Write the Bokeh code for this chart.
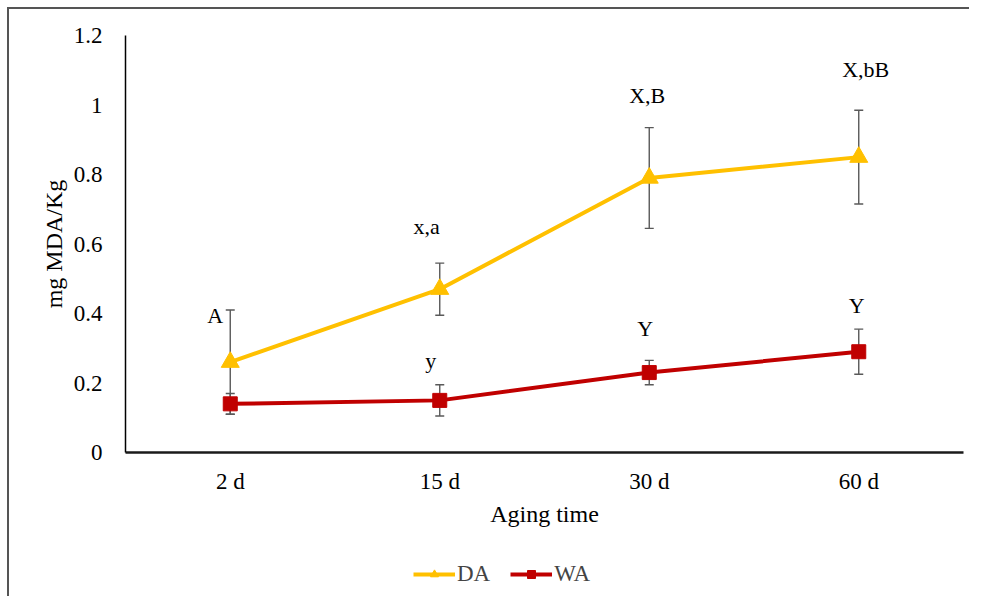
from bokeh.plotting import figure
from bokeh.layouts import column, row
from bokeh.models import (FactorRange, Range1d, Whisker, TeeHead, ColumnDataSource,
                          Legend, LegendItem, FixedTicker, Spacer)
from bokeh.core.properties import value
from bokeh.embed import file_html
from bokeh.resources import INLINE

# ---- data ----
categories = ["2 d", "15 d", "30 d", "60 d"]
da_mean = [0.26, 0.47, 0.79, 0.85]
da_err = [0.15, 0.075, 0.145, 0.135]
wa_mean = [0.14, 0.15, 0.23, 0.29]
wa_err = [0.03, 0.045, 0.035, 0.065]
da_letters = ["A", "x,a", "X,B", "X,bB"]
wa_letters = ["", "y", "Y", "Y"]
y_ticks = [0, 0.2, 0.4, 0.6, 0.8, 1.0, 1.2]

# label pixel offsets (style, relative to error-bar top)
da_dx = [-15, -13, -2, 7]
da_dy = [5, -37, -32, -41]
wa_dx = [0, -9, -4, -2]
wa_dy = [0, -24, -32, -24]

FONT = "Liberation Serif"
GOLD = "#FFC000"
RED = "#C00000"
GREY = "#595959"

da_src = ColumnDataSource(dict(
    x=categories, y=da_mean,
    lo=[m - e for m, e in zip(da_mean, da_err)],
    hi=[m + e for m, e in zip(da_mean, da_err)],
    lab=da_letters, dx=da_dx, dy=da_dy))
wa_src = ColumnDataSource(dict(
    x=categories, y=wa_mean,
    lo=[m - e for m, e in zip(wa_mean, wa_err)],
    hi=[m + e for m, e in zip(wa_mean, wa_err)],
    lab=wa_letters, dx=wa_dx, dy=wa_dy))

p = figure(x_range=FactorRange(factors=categories), y_range=Range1d(0, 1.2),
           frame_width=838, frame_height=417, output_backend="svg",
           toolbar_location=None,
           min_border_left=116, min_border_right=6, min_border_top=26,
           min_border_bottom=84)
p.outline_line_color = None
p.xgrid.visible = False
p.ygrid.visible = False
p.background_fill_color = "white"
p.border_fill_color = "white"

# axes
p.yaxis.ticker = FixedTicker(ticks=y_ticks)
p.yaxis.major_label_overrides = {0: "0", 1: "1"}
p.yaxis.major_tick_line_color = None
p.yaxis.minor_tick_line_color = None
p.yaxis.axis_line_color = "black"
p.yaxis.axis_line_width = 1.5
p.yaxis.major_label_standoff = 17
p.yaxis.axis_label = "mg MDA/Kg"
p.yaxis.axis_label_standoff = 4
p.xaxis.major_tick_line_color = None
p.xaxis.axis_line_color = "#1a1a1a"
p.xaxis.axis_line_width = 2.6
p.xaxis.major_label_standoff = 10
p.xaxis.axis_label = "Aging time"
p.xaxis.axis_label_standoff = 4
for ax in (p.xaxis, p.yaxis):
    ax.major_label_text_font = FONT
    ax.major_label_text_font_size = "23px"
    ax.major_label_text_color = "black"
    ax.axis_label_text_font = FONT
    ax.axis_label_text_font_size = "24px"
    ax.axis_label_text_font_style = "normal"
    ax.axis_label_text_color = "black"

# error bars
for src in (da_src, wa_src):
    w = Whisker(source=src, base="x", lower="lo", upper="hi", level="underlay",
                line_color=GREY, line_width=1.4,
                upper_head=TeeHead(size=9, line_color=GREY, line_width=1.4),
                lower_head=TeeHead(size=9, line_color=GREY, line_width=1.4))
    p.add_layout(w)

p.line("x", "y", source=da_src, line_color=GOLD, line_width=4)
p.scatter("x", "y", source=da_src, marker="triangle", size=18,
          fill_color=GOLD, line_color=GOLD)
p.line("x", "y", source=wa_src, line_color=RED, line_width=4)
p.scatter("x", "y", source=wa_src, marker="square", size=14,
          fill_color=RED, line_color=RED)

for src in (da_src, wa_src):
    p.text(x="x", y="hi", text="lab", source=src, x_offset="dx", y_offset="dy",
           text_align="center", text_baseline="alphabetic",
           text_font=value(FONT), text_font_size="22px", text_color="black")

# legend strip below the chart (same series, y-range placed so no marks show)
p2 = figure(width=960, height=60, x_range=FactorRange(factors=categories),
            y_range=Range1d(10, 11),
            x_axis_type=None, y_axis_type=None, output_backend="svg",
            toolbar_location=None, min_border=0)
p2.outline_line_color = None
p2.xgrid.visible = False
p2.ygrid.visible = False
p2.border_fill_color = "white"
l1 = p2.line("x", "y", source=da_src, line_color=GOLD, line_width=4)
m1 = p2.scatter("x", "y", source=da_src, marker="triangle", size=16,
                fill_color=GOLD, line_color=GOLD)
l2 = p2.line("x", "y", source=wa_src, line_color=RED, line_width=4)
m2 = p2.scatter("x", "y", source=wa_src, marker="square", size=14,
                fill_color=RED, line_color=RED)
legend = Legend(items=[LegendItem(label="DA", renderers=[l1, m1]),
                       LegendItem(label="WA", renderers=[l2, m2])],
                orientation="horizontal", location=(288, 9),
                label_text_font=FONT, label_text_font_size="23px",
                glyph_width=42, glyph_height=20, spacing=20, label_standoff=2,
                padding=0, margin=0,
                border_line_color=None, background_fill_alpha=0)
p2.add_layout(legend, "center")

chart = column(p, p2, spacing=0)
chart.styles = {"border-left": "2px solid #555555", "border-top": "2px solid #555555"}

layout = row(Spacer(width=7), chart, spacing=0)
layout.styles = {"position": "relative", "top": "7px"}

open("out.html", "w").write(file_html(layout, INLINE))
